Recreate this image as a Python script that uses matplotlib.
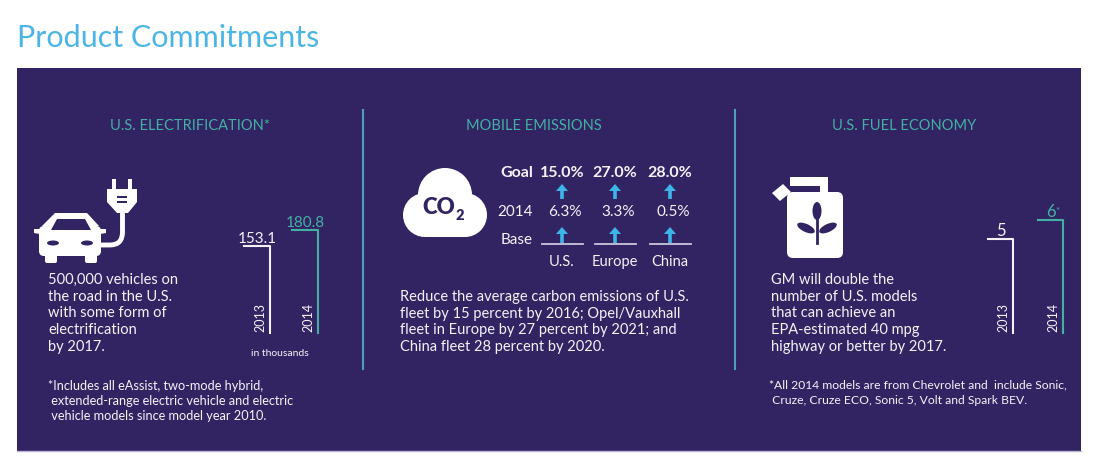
import matplotlib
matplotlib.use('Agg')
from matplotlib import pyplot as plt
from matplotlib.patches import Rectangle, FancyBboxPatch, Polygon, Circle, Ellipse, PathPatch
from matplotlib.path import Path

# chart values
elec_years = ['2013', '2014']
elec_values = [153.1, 180.8]
fuel_years = ['2013', '2014']
fuel_values = [5, 6]
fuel_marks = ['', '*']
regions = ['U.S.', 'Europe', 'China']
goal_pct = [15.0, 27.0, 28.0]
now_pct = [6.3, 3.3, 0.5]

W, H = 1099, 468
PURPLE = '#322462'
TEAL = '#43b0a3'
DIVIDER = '#4e9fbd'
SKY = '#3db5e9'
TITLE_BLUE = '#4cb5e5'
WHITE = '#f4f2f8'
BASE_GREY = '#c9c5dd'

plt.rcParams['font.family'] = ['Lato', 'DejaVu Sans']

fig = plt.figure(figsize=(W / 100, H / 100), dpi=100)
ax = fig.add_axes([0, 0, 1, 1])
ax.set_xlim(0, W)
ax.set_ylim(H, 0)
ax.axis('off')


def inset(left, top, width, height):
    a = fig.add_axes([left / W, 1 - (top + height) / H, width / W, height / H])
    a.axis('off')
    return a


def lines_at(x, y0, step, lines, **kw):
    for k, line in enumerate(lines):
        ax.text(x, y0 + k * step, line, va='center', ha='left', **kw)


def up_arrow(x, y_bot, y_top, color=SKY):
    shaft, head_w, head_h = 1.8, 6, 7
    pts = [(x - shaft, y_bot), (x - shaft, y_top + head_h), (x - head_w, y_top + head_h),
           (x, y_top), (x + head_w, y_top + head_h), (x + shaft, y_top + head_h),
           (x + shaft, y_bot)]
    ax.add_patch(Polygon(pts, closed=True, color=color, lw=0))


# title and panel
ax.text(17, 38, 'Product Commitments', color=TITLE_BLUE, fontsize=22,
        va='center', ha='left')
ax.add_patch(Rectangle((17, 68), 1064, 383, color=PURPLE, lw=0))
ax.plot([17, 1081], [451, 451], color='#b9b4d6', lw=1)
for xd in (363, 735):
    ax.plot([xd, xd], [110, 369], color=DIVIDER, lw=1.5)

head_kw = dict(color=TEAL, fontsize=10.5, ha='center', va='center')
ax.text(190, 126, 'U.S. ELECTRIFICATION*', **head_kw)
ax.text(534, 126, 'MOBILE EMISSIONS', **head_kw)
ax.text(904, 126, 'U.S. FUEL ECONOMY', **head_kw)

# ---- section 1: electrification ----
# car
ax.add_patch(Polygon([(55, 213), (87, 213), (99, 226), (42, 226)], color='white', lw=0))
ax.add_patch(FancyBboxPatch((39, 226), 62, 30, boxstyle='round,pad=0,rounding_size=5',
                            color='white', lw=0))
ax.add_patch(Polygon([(57, 219), (85, 219), (91, 230), (51, 230)], color=PURPLE, lw=0))
ax.add_patch(Polygon([(34, 229), (40, 229), (40, 234), (34, 233)], color='white', lw=0))
ax.add_patch(Polygon([(100, 229), (106, 229), (106, 233), (100, 234)], color='white', lw=0))
for xw in (45, 85):
    ax.add_patch(FancyBboxPatch((xw, 252), 12, 11, boxstyle='round,pad=0,rounding_size=2',
                                color='white', lw=0))
ax.add_patch(Ellipse((53, 243), 12, 5, color=PURPLE, lw=0))
ax.add_patch(Ellipse((87, 243), 12, 5, color=PURPLE, lw=0))
# plug
ax.add_patch(Rectangle((112, 179), 4, 11, color='white', lw=0))
ax.add_patch(Rectangle((128, 179), 4, 11, color='white', lw=0))
ax.add_patch(Polygon([(107, 189), (137, 189), (137, 202), (128, 213), (117, 213), (107, 202)],
                     color='white', lw=0))
ax.add_patch(Rectangle((117, 195.5), 10, 2.5, color=PURPLE, lw=0))
ax.add_patch(Rectangle((117, 200.5), 10, 2.5, color=PURPLE, lw=0))
cord = Path([(122.5, 212), (122.5, 232), (122.5, 245), (110, 245), (99, 245)],
            [Path.MOVETO, Path.LINETO, Path.CURVE3, Path.CURVE3, Path.LINETO])
ax.add_patch(PathPatch(cord, fill=False, edgecolor='white', lw=3.5, capstyle='butt'))

body_kw = dict(color=WHITE, fontsize=10.5)
lines_at(48, 280, 16.7, ['500,000 vehicles on', 'the road in the U.S.', 'with some form of',
                         'electrification', 'by 2017.'], **body_kw)
ax.text(280, 353, 'in thousands', color=WHITE, fontsize=7.5, ha='center', va='center')
lines_at(48, 386, 15, ['*Includes all eAssist, two-mode hybrid,',
                       ' extended-range electric vehicle and electric',
                       ' vehicle models since model year 2010.'], color=WHITE, fontsize=9.2)

bar_colors = [WHITE, TEAL]
ex = inset(222, 333 - 200 * 0.568, 120, 200 * 0.568)
ex.set_xlim(-1, 1.5)
ex.set_ylim(0, 200)
for i, (yr, v) in enumerate(zip(elec_years, elec_values)):
    ex.plot([i - 0.55, i, i], [v, v, 0], color=bar_colors[i], lw=1.5, clip_on=False)
    ex.annotate(f'{v:.1f}', (i - 0.27, v), xytext=(0, 0), textcoords='offset points',
                ha='center', va='bottom', color=bar_colors[i], fontsize=11)
    ex.annotate(yr, (i, 0), xytext=(-2.5, 1), textcoords='offset points', rotation=90,
                ha='right', va='bottom', color=WHITE, fontsize=9)

# ---- section 2: mobile emissions ----
ax.add_patch(Circle((445, 195), 27, color='white', lw=0))
ax.add_patch(Circle((425, 215), 22, color='white', lw=0))
ax.add_patch(Circle((465, 215), 22, color='white', lw=0))
ax.add_patch(Rectangle((425, 205), 40, 32, color='white', lw=0))
ax.text(439, 208, 'CO', color=PURPLE, fontsize=16, fontweight='heavy', ha='center', va='center')
ax.text(460, 216, '2', color=PURPLE, fontsize=10.5, fontweight='heavy', ha='center', va='center')

col_x = [562, 615, 670]
ax.text(533, 173, 'Goal', color=WHITE, fontsize=11.5, fontweight='bold', ha='right', va='center')
ax.text(533, 212, '2014', color=WHITE, fontsize=11, ha='right', va='center')
ax.text(533, 240, 'Base', color=WHITE, fontsize=11, ha='right', va='center')
for cx, reg, g, n in zip(col_x, regions, goal_pct, now_pct):
    ax.text(cx, 173, f'{g:.1f}%', color=WHITE, fontsize=11.5, fontweight='bold',
            ha='center', va='center')
    ax.text(cx + 3, 212, f'{n:.1f}%', color=WHITE, fontsize=11, ha='center', va='center')
    up_arrow(cx, 199, 184)
    up_arrow(cx, 243, 227)
    ax.plot([cx - 20, cx + 21], [244, 244], color=BASE_GREY, lw=1.3)
    ax.text(cx, 262, reg, color=WHITE, fontsize=10.5, ha='center', va='center')

lines_at(400, 297, 16.7, ['Reduce the average carbon emissions of U.S.',
                          'fleet by 15 percent by 2016; Opel/Vauxhall',
                          'fleet in Europe by 27 percent by 2021; and',
                          'China fleet 28 percent by 2020.'], **body_kw)

# ---- section 3: fuel economy ----
ax.add_patch(Polygon([(790, 177), (828, 177), (828, 195), (820, 195), (820, 186), (790, 186)],
                     color='white', lw=0))
ax.add_patch(Polygon([(772, 193), (783, 184), (791, 192), (780, 201)], color='white', lw=0))
ax.add_patch(FancyBboxPatch((787, 192), 56, 66, boxstyle='round,pad=0,rounding_size=6',
                            color='white', lw=0))
ax.add_patch(Ellipse((817, 211), 9, 18, color=PURPLE, lw=0))
ax.add_patch(Ellipse((806, 228), 19, 8, angle=25, color=PURPLE, lw=0))
ax.add_patch(Ellipse((828, 228), 19, 8, angle=-25, color=PURPLE, lw=0))
ax.plot([817, 817], [212, 243], color=PURPLE, lw=2)

lines_at(771, 280, 16.7, ['GM will double the', 'number of U.S. models', 'that can achieve an',
                          'EPA-estimated 40 mpg', 'highway or better by 2017.'], **body_kw)
lines_at(769, 385, 15, ['*All 2014 models are from Chevrolet and  include Sonic,',
                        ' Cruze, Cruze ECO, Sonic 5, Volt and Spark BEV.'],
         color=WHITE, fontsize=8.7)

fx = inset(963, 333 - 7 * 18.8, 125, 7 * 18.8)
fx.set_xlim(-1, 1.5)
fx.set_ylim(0, 7)
for i, (yr, v, mk) in enumerate(zip(fuel_years, fuel_values, fuel_marks)):
    fx.plot([i - 0.5, i, i], [v, v, 0], color=bar_colors[i], lw=1.5, clip_on=False)
    fx.annotate(f'{v}', (i - 0.25, v), xytext=(0, 0), textcoords='offset points',
                ha='center', va='bottom', color=bar_colors[i], fontsize=12)
    if mk:
        fx.annotate(mk, (i - 0.25, v), xytext=(3.5, 3), textcoords='offset points',
                    ha='left', va='bottom', color=bar_colors[i], fontsize=7)
    fx.annotate(yr, (i, 0), xytext=(-2.5, 1), textcoords='offset points', rotation=90,
                ha='right', va='bottom', color=WHITE, fontsize=9)

fig.savefig('out.png', dpi=100, facecolor='white')
